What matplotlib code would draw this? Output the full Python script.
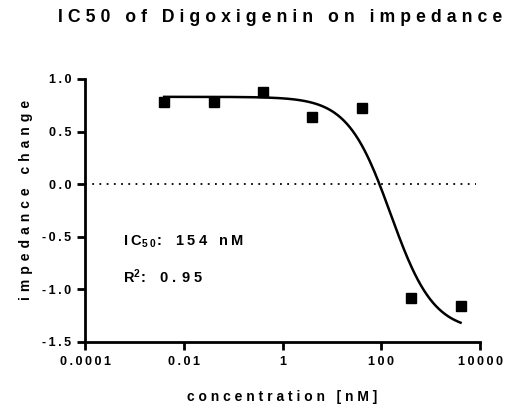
import numpy as np
import matplotlib
matplotlib.use("Agg")
import matplotlib.pyplot as plt

plt.rcParams['font.family'] = ['Liberation Sans', 'DejaVu Sans']
plt.rcParams['font.weight'] = 'bold'
plt.rcParams['mathtext.fontset'] = 'custom'
plt.rcParams['mathtext.rm'] = 'Liberation Sans:bold'
plt.rcParams['mathtext.bf'] = 'Liberation Sans:bold'
plt.rcParams['mathtext.it'] = 'Liberation Sans:bold'

# data
conc_nM = [0.004, 0.04, 0.4, 4, 40, 400, 4000]
impedance_change = [0.78, 0.78, 0.88, 0.64, 0.72, -1.08, -1.16]
# fitted 4PL parameters
fit_top = 0.83
fit_bottom = -1.40
fit_ic50 = 154.0
fit_hill = 1.0
x_ticks = [0.0001, 0.01, 1, 100, 10000]
x_ticklabels = ['0.0001', '0.01', '1', '100', '10000']
y_ticks = [-1.5, -1.0, -0.5, 0.0, 0.5, 1.0]

def track(s, sep='\u2009'):
    return sep.join(list(s))

fig = plt.figure(figsize=(5.06, 4.07), dpi=100)
ax = fig.add_axes([0.168, 0.160, 0.781, 0.646])

xs = np.logspace(np.log10(conc_nM[0]), np.log10(conc_nM[-1]), 300)
ys = fit_bottom + (fit_top - fit_bottom) / (1 + (xs / fit_ic50) ** fit_hill)
ax.plot(xs, ys, color='black', lw=1.8, zorder=2)
ax.plot(conc_nM, impedance_change, 's', color='black', ms=7, zorder=3)
ax.axhline(0, color='black', lw=1.3, ls=(0, (1, 3)), xmin=0, xmax=0.99, zorder=1)

ax.set_xscale('log')
ax.set_xlim(0.0001, 10000)
ax.set_ylim(-1.5, 1.0)
ax.set_xticks(x_ticks)
ax.set_xticklabels([track(t) for t in x_ticklabels])
ax.minorticks_off()
ax.set_yticks(y_ticks)
ax.set_yticklabels([track(f'{v:.1f}') for v in y_ticks])

for s in ['top', 'right']:
    ax.spines[s].set_visible(False)
for s in ['left', 'bottom']:
    ax.spines[s].set_linewidth(2)
ax.tick_params(axis='both', direction='out', length=6, width=2, labelsize=9, pad=4)

ax.set_xlabel(track('concentration [nM]', '\u2009\u200a'), fontsize=10,
              fontweight='bold', labelpad=16)
ax.set_ylabel(track('impedance change', '\u2009\u200a\u200a'), fontsize=10,
              fontweight='bold')
ax.yaxis.set_label_coords(-0.132, 0.54)
fig.text(0.553, 0.957, track('IC50 of Digoxigenin on impedance', '\u2009\u200a'),
         fontsize=12.7, fontweight='bold', ha='center', va='center')

ax.text(0.0006, -0.55, r'$\mathbf{I\;C_{5\;0}\!:\;\;\ 1\;5\;4\;\;\ n\;M}$',
        fontsize=10.5, va='center')
ax.text(0.0006, -0.88, r'$\mathbf{R^{2}\!:\;\;\ 0\;.\;9\;5}$', fontsize=10.5, va='center')

fig.savefig('out.png', dpi=100)
